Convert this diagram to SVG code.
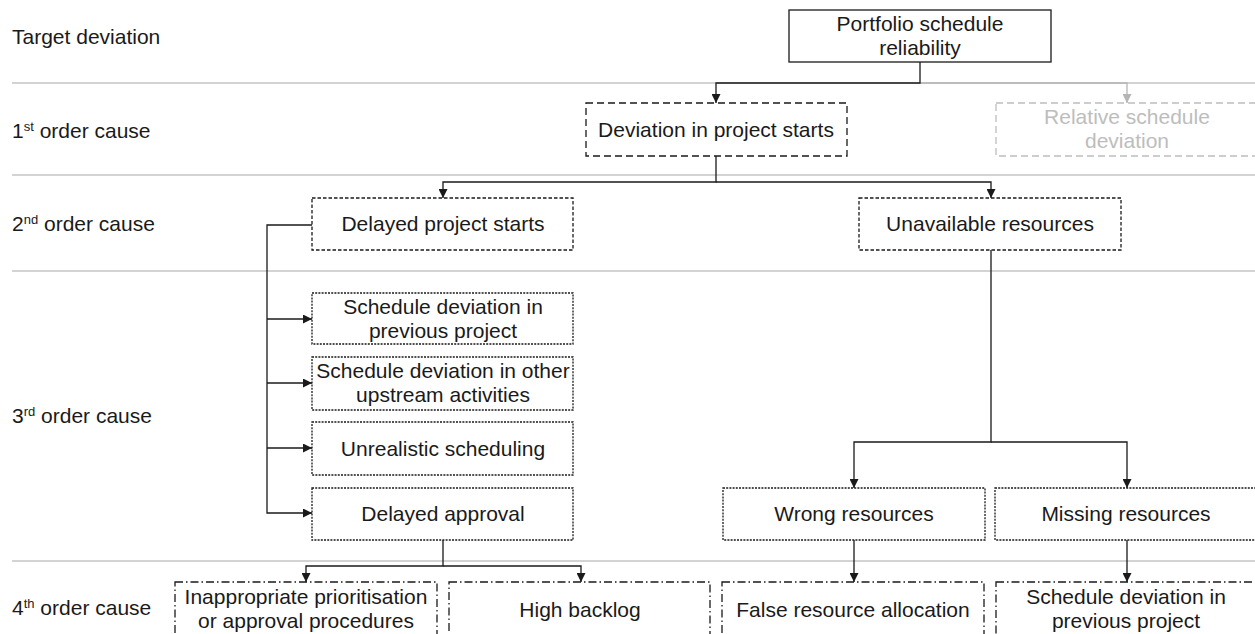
<svg xmlns="http://www.w3.org/2000/svg" width="1255" height="634" viewBox="0 0 1255 634">
<style>
text{font-family:"Liberation Sans",Arial,sans-serif;font-size:21px;fill:#1a1a1a}
.lbl{text-anchor:start}
.c{text-anchor:middle}
.sep{stroke:#c4c4c4;stroke-width:1.3;fill:none}
.box{fill:#fff;stroke:#1a1a1a;stroke-width:1.3}
.d1{stroke-dasharray:7,4}
.d2{stroke-dasharray:3.5,2}
.d3{stroke-dasharray:2,1.2}
.d4{stroke-dasharray:8,3,1.5,3}
.gray{stroke:#bdbdbd}
.gt{fill:#bdbdbd}
.con{stroke:#1a1a1a;stroke-width:1.3;fill:none}
.gcon{stroke:#b5b5b5;stroke-width:1.3;fill:none}
</style>
<defs>
<marker id="arr" viewBox="0 0 10 10" refX="10" refY="5" markerWidth="9" markerHeight="9" markerUnits="userSpaceOnUse" orient="auto">
<path d="M0,0 L10,5 L0,10 z" fill="#1a1a1a"/>
</marker>
<marker id="garr" viewBox="0 0 10 10" refX="10" refY="5" markerWidth="9" markerHeight="9" markerUnits="userSpaceOnUse" orient="auto">
<path d="M0,0 L10,5 L0,10 z" fill="#b5b5b5"/>
</marker>
</defs>
<rect width="1255" height="634" fill="#fff"/>
<g id="separators">
<line class="sep" x1="12" y1="83" x2="1255" y2="83"/>
<line class="sep" x1="12" y1="175" x2="1255" y2="175"/>
<line class="sep" x1="12" y1="271" x2="1255" y2="271"/>
<line class="sep" x1="12" y1="561" x2="1255" y2="561"/>
</g>
<g id="row-labels">
<text class="lbl" x="12" y="44">Target deviation</text>
<text class="lbl" x="12" y="138">1<tspan font-size="13" dy="-7">st</tspan><tspan dy="7"> order cause</tspan></text>
<text class="lbl" x="12" y="231">2<tspan font-size="13" dy="-7">nd</tspan><tspan dy="7"> order cause</tspan></text>
<text class="lbl" x="12" y="423">3<tspan font-size="13" dy="-7">rd</tspan><tspan dy="7"> order cause</tspan></text>
<text class="lbl" x="12" y="615">4<tspan font-size="13" dy="-7">th</tspan><tspan dy="7"> order cause</tspan></text>
</g>
<g id="connectors">
<path class="gcon" d="M920,83 H1127 V103" marker-end="url(#garr)"/>
<path class="con" d="M920,62 V83 H716 V103" marker-end="url(#arr)"/>
<path class="con" d="M716,156 V182 H443 V198" marker-end="url(#arr)"/>
<path class="con" d="M716,182 H991 V198" marker-end="url(#arr)"/>
<path class="con" d="M312,225 H267 V513 H312" marker-end="url(#arr)"/>
<path class="con" d="M267,319 H312" marker-end="url(#arr)"/>
<path class="con" d="M267,383 H312" marker-end="url(#arr)"/>
<path class="con" d="M267,448 H312" marker-end="url(#arr)"/>
<path class="con" d="M991,250 V442 H854 V488" marker-end="url(#arr)"/>
<path class="con" d="M991,442 H1127 V488" marker-end="url(#arr)"/>
<path class="con" d="M443,540 V566 H306 V582" marker-end="url(#arr)"/>
<path class="con" d="M443,566 H581 V582" marker-end="url(#arr)"/>
<path class="con" d="M854,540 V582" marker-end="url(#arr)"/>
<path class="con" d="M1127,540 V582" marker-end="url(#arr)"/>
</g>
<g id="n-portfolio">
<rect class="box" x="789" y="10" width="262" height="52"/>
<text class="c" x="920" y="31">Portfolio schedule</text>
<text class="c" x="920" y="55">reliability</text>
</g>
<g id="n-deviation-starts">
<rect class="box d1" x="586" y="103" width="261" height="53"/>
<text class="c" x="716" y="137">Deviation in project starts</text>
</g>
<g id="n-relative">
<rect class="box d1 gray" x="996" y="103" width="270" height="53"/>
<text class="c gt" x="1127" y="124">Relative schedule</text>
<text class="c gt" x="1127" y="148">deviation</text>
</g>
<g id="n-delayed-starts">
<rect class="box d2" x="312" y="198" width="261" height="52"/>
<text class="c" x="443" y="231">Delayed project starts</text>
</g>
<g id="n-unavailable">
<rect class="box d2" x="859" y="198" width="262" height="52"/>
<text class="c" x="990" y="231">Unavailable resources</text>
</g>
<g id="n-sched-prev">
<rect class="box d3" x="312" y="293" width="261" height="51"/>
<text class="c" x="443" y="314">Schedule deviation in</text>
<text class="c" x="443" y="338">previous project</text>
</g>
<g id="n-sched-other">
<rect class="box d3" x="312" y="357" width="261" height="53"/>
<text class="c" x="443" y="378">Schedule deviation in other</text>
<text class="c" x="443" y="402">upstream activities</text>
</g>
<g id="n-unrealistic">
<rect class="box d3" x="312" y="422" width="261" height="53"/>
<text class="c" x="443" y="456">Unrealistic scheduling</text>
</g>
<g id="n-delayed-approval">
<rect class="box d3" x="312" y="488" width="261" height="52"/>
<text class="c" x="443" y="521">Delayed approval</text>
</g>
<g id="n-wrong">
<rect class="box d3" x="723" y="488" width="262" height="52"/>
<text class="c" x="854" y="521">Wrong resources</text>
</g>
<g id="n-missing">
<rect class="box d3" x="995" y="488" width="270" height="52"/>
<text class="c" x="1126" y="521">Missing resources</text>
</g>
<g id="n-inappropriate">
<rect class="box d4" x="175" y="582" width="262" height="58"/>
<text class="c" x="306" y="604">Inappropriate prioritisation</text>
<text class="c" x="306" y="628">or approval procedures</text>
</g>
<g id="n-backlog">
<rect class="box d4" x="449" y="582" width="261" height="58"/>
<text class="c" x="580" y="617">High backlog</text>
</g>
<g id="n-false-alloc">
<rect class="box d4" x="722" y="582" width="262" height="58"/>
<text class="c" x="853" y="617">False resource allocation</text>
</g>
<g id="n-sched-prev-4">
<rect class="box d4" x="996" y="582" width="270" height="58"/>
<text class="c" x="1126" y="604">Schedule deviation in</text>
<text class="c" x="1126" y="628">previous project</text>
</g>
</svg>
